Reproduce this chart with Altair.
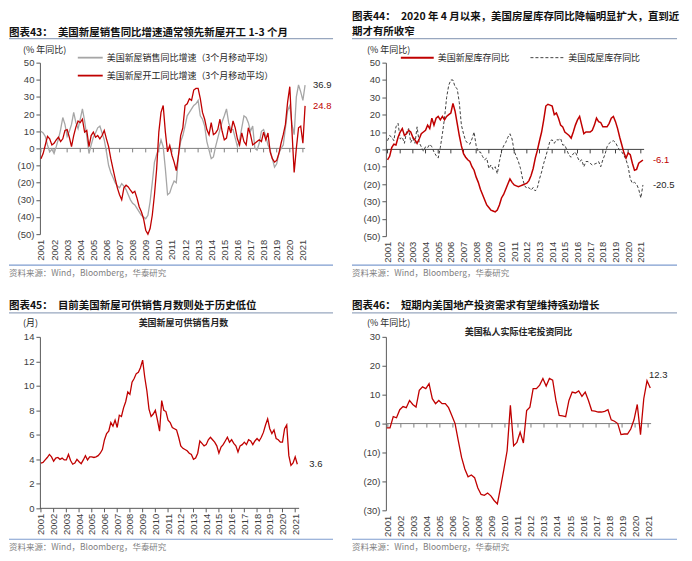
import altair as alt
import pandas as pd

YEARS = list(range(2001, 2022))

# ---- 图表43 (readings every two months, Jan 2001 .. Mar 2021) ----
sales_yoy = [10, 9, 7, 2, -2, -0.5, -3, 1, 5.5, 11, 18, 14,
             7, 10, 14, 21, 15, 11.5, 17, 23, 16, 7, -3, 2,
             6.5, 9, 12, 13, 9, 5, -2, -10, -14, -17, -20, -22,
             -23, -20.5, -22, -24, -27, -30, -32, -33, -35, -37, -39, -40,
             -41, -39, -31, -20, -8, -3.5, 0, 5, 1, -12, -27, -26,
             -22, -19, -20, -4, 4, 7.5, 13, 19, 21, 23, 25, 26,
             28, 19, 17, 13, 4, -1, -6, -5, 1, 6, 11, 15.5,
             19, 23, 15, 11, 11, 6, 1, 5, 12, 19, 18, 15,
             10, 13, 0, -1, 3, 10, 11, 7, 2, -1, -6, -11,
             -9, -3, 0, 2, 12, 22, 25, 14, 8, 30, 37, 33,
             28, 36.9]
starts_yoy = [-6, -3, 2, 7, 5.6, 2, 3, 5, 6.5, 4, 5.6, 10.5,
              11, 6.5, 1, 7.5, 12.4, 16, 15, 17, 9.5, 10.5, 1, 7.5,
              9.5, 6.5, 7.5, 5.6, 7.5, 10.5, 5.6, 1, -6, -12, -17.6, -23,
              -27, -30, -23, -21.5, -22.5, -24.4, -26, -25, -29, -34, -37, -41,
              -47.7, -50, -46.7, -39, -27, -12, 9.5, 21, 25, 9.5, -2, 1.7,
              -4, -8, -13, -4, 7.5, 12, 25, 26, 29, 28, 34, 35,
              35, 29, 21, 17, 11, 8, 15, 8, 9, 11, 17, 10,
              5, 6, 13, 9, 16, 12, 5.6, 2, 9, 4, 2, 12,
              8, 2, 3, 4, 5, 4, 9.5, 5, 9, -2, -6, -8,
              -7, -3, 3, 8, 14, 27, 36, 10, -14, 0, 12, 13,
              3, 24.8]

# ---- 图表44 ----
new_inv_yoy = [-6, -4, 1, 3, 2.5, 7, 10, 12, 8, 9, 11, 10,
               7, 5.5, 3.5, 6, 9, 10, 11, 14, 12, 18, 14, 18,
               19, 17, 19, 17, 19, 20, 21, 26.5, 22, 15, 8, 2,
               -2.5, -4.5, -6, -7, -10, -12, -16, -19, -23, -26, -29, -32,
               -33.5, -35, -35.5, -36, -35, -32, -28, -26, -23, -20, -17, -19,
               -20.5, -21, -21.5, -21, -20.5, -20, -19.5, -18, -15, -11, -5, -0.5,
               5, 10, 17, 25, 26, 25.5, 25, 20, 21, 18, 14, 13,
               10, 9, 8, 6.5, 10, 14, 17, 19, 14, 9, 10, 10,
               10, 11, 14, 18, 16, 15.5, 13, 13, 13, 15, 18, 19,
               16, 12, 7, 2.5, -2, -5, -2, -3, -8, -12, -11.5, -8,
               -7, -6.1]
exist_inv_yoy = [5, 8, 7, 5, 13, 15, 6, 7, 3.5, 10, 12, 4,
                 6.5, 3.5, 13, 4, 1.5, -1, 1.5, 1, 3, 1.5, -1.5, -3.5,
                 -5, 1, 9, 18, 30, 37, 40, 40, 36, 35, 27, 14,
                 9, 5, 3.5, 3, 6, 10, 2, -1.5, -1.5, -4, -6, -5,
                 -11, -9, -11.5, -10, -14, -7, -1, 2, 4, 7, 9, 6,
                 -1, -4, -7, -11, -17, -21, -22.5, -22, -23.5, -22, -24, -22,
                 -17, -13, -8, -4, 0.5, 5, 5.5, 3.5, 5.5, 5.5, 6.3, 2.5,
                 2.5, -0.5, -3.5, -4.5, -2.5, -1.5, -4.5, -7, -6, -10, -7, -7,
                 -8, -9, -8.5, -8, -7, -10, -6, -3, 1.5, 3.5, 4.5, 5,
                 4, 1.5, -0.5, -1.5, -3.5, -6, -10, -17, -19.5, -19, -20, -23,
                 -28, -20.5]

# ---- 图表45 ----
months_supply = [3.7, 3.75, 3.95, 4.15, 4.4, 4.2, 3.85, 4.1, 4.15, 4.0, 4.1, 3.95,
                 3.95, 4.4, 3.9, 3.6, 3.7, 4.0, 3.8, 3.65, 3.95, 4.3, 3.95, 4.2,
                 4.2, 4.15, 4.2, 4.3, 4.5, 4.8, 5.6, 6.1, 6.3, 7.0, 6.7, 7.2,
                 6.6, 7.6, 7.5, 8.2, 8.7, 9.5, 9.3, 10.3, 10.6, 11.0, 11.1, 11.5,
                 12.1, 10.7, 9.6, 8.1, 7.5, 7.7, 8.0, 7.2, 6.3, 8.8, 8.0, 7.9,
                 7.2, 7.0, 6.6, 6.5, 6.4, 5.8, 5.1, 4.9, 4.8, 4.7, 4.5, 4.4,
                 4.0, 4.1, 4.5, 5.5, 5.3, 5.1, 5.2, 5.6, 5.8, 5.6, 5.4, 5.1,
                 4.5, 5.0, 5.2, 5.5, 5.8, 5.4, 5.6, 5.3, 5.1, 4.6, 5.1, 5.2,
                 5.4, 5.2, 5.6, 5.5, 5.2, 5.5, 5.7, 5.5, 5.8, 6.2, 6.8, 7.3,
                 6.5, 6.1, 6.4, 5.7, 5.6, 5.4, 5.4, 6.5, 6.8, 4.3, 3.5, 3.7,
                 4.2, 3.6]

# ---- 图表46 (quarterly, 2000Q4 .. 2021Q1) ----
resinv_yoy = [-1.5, -1.5, 2.4, 2.0, 4.8, 5.9, 5.5, 8.0, 6.6, 5.7, 11.5, 12.7,
              12.1, 13.8, 8.6, 6.9, 8.0, 6.9, 6.9, 5.5, 2.8, 0, -6, -11.7,
              -15.7, -18.4, -17.8, -18.7, -22.3, -24.5, -24.8, -24, -25, -26.6, -27.8, -22,
              -15.8, -9.4, 6.3, -7.7, -6.5, -3, -6.7, 4.5, 5.7, 12.1, 12.1, 13.3,
              15.6, 13, 15.6, 15, 8, 2.8, 2.7, 2.4, 8, 10.9, 10.6, 11.3,
              9.4, 10.9, 8, 4.5, 4.3, 4, 4, 4.2, 4.8, 1.3, 0.8, 0,
              -3.8, -3.6, -3.6, -1.9, 1.3, 6.6, -3.8, 8.6, 14.8, 12.3]

CN = "Noto Sans CJK SC"
NUM = "Liberation Sans"
RED = "#C00000"
GRAY = "#A6A6A6"
AXIS_C = "#595959"
TXT_C = "#404040"
TOP_LINE = "#98A7BF"
BOT_LINE = "#7E9CCF"
ONE = alt.Data(values=[{"k": 0}])


def bimonthly(vals):
    return pd.DataFrame({"t": [2001 + i / 6 for i in range(len(vals))], "v": vals})


def quarterly(vals):
    return pd.DataFrame({"t": [2000 + 11 / 12 + i / 4 for i in range(len(vals))], "v": vals})


def last_row(df):
    r = df.iloc[-1]
    return pd.DataFrame({"t": [r["t"]], "v": [r["v"]], "lbl": [f"{r['v']:.1f}"]})


PAREN = "datum.value < 0 ? '(' + format(-datum.value, 'd') + ')' : format(datum.value, 'd')"


def xenc(dom):
    return alt.X("t:Q", scale=alt.Scale(domain=dom, nice=False, zero=False),
                 axis=alt.Axis(values=YEARS, format="d", labelAngle=-90, domain=False, ticks=False,
                               labelPadding=5, labelFont=NUM, labelFontSize=9.5, labelColor=TXT_C,
                               grid=False, title=None, labelOverlap=False, labelFlush=False,
                               labelBound=False))


def yenc(dom, vals):
    return alt.Y("v:Q", scale=alt.Scale(domain=dom, nice=False, zero=False),
                 axis=alt.Axis(values=vals, labelExpr=PAREN, grid=False, title=None,
                               domainColor=AXIS_C, tickColor=AXIS_C, tickSize=4, labelPadding=2,
                               labelFont=NUM, labelFontSize=9.5, labelColor=TXT_C))


def txt(s, x, y, size=9, weight="normal", color="#262626", align="left", font=CN):
    return alt.Chart(ONE).mark_text(text=s, align=align, baseline="middle", fontSize=size,
                                    fontWeight=weight, color=color, font=font).encode(
        x=alt.value(x), y=alt.value(y))


def hline(x1, x2, y, color, width=1.0, dash=None):
    kw = dict(color=color, strokeWidth=width)
    if dash:
        kw["strokeDash"] = dash
    return alt.Chart(ONE).mark_rule(**kw).encode(x=alt.value(x1), x2=alt.value(x2), y=alt.value(y))


def zero_and_ticks(X, Y, color):
    zero = alt.Chart(pd.DataFrame({"v": [0]})).mark_rule(color=color, strokeWidth=1).encode(y=Y)
    ticks = alt.Chart(pd.DataFrame({"t": YEARS, "v": [0] * len(YEARS), "v2": [0] * len(YEARS)})).mark_rule(
        color=color, strokeWidth=1, y2Offset=4).encode(x=X, y=Y, y2="v2:Q")
    return [zero, ticks]


def frame(title_lines, xl, xr, source_y=211):
    layers = []
    for i, (s, y) in enumerate(title_lines):
        layers.append(txt(s, xl, y, size=10.5, weight="bold", color="#111111"))
    layers.append(hline(xl, xr, -24, TOP_LINE, 1.2))
    layers.append(hline(xl, xr, 203, BOT_LINE, 1.2))
    layers.append(txt("资料来源：Wind，Bloomberg，华泰研究", xl, source_y, size=8.5, color="#7F7F7F"))
    return layers


def end_label(df, X, Y, color, dx, dy=0, align="left"):
    return alt.Chart(last_row(df)).mark_text(align=align, baseline="middle", dx=dx, dy=dy, fontSize=9.5,
                                             font=NUM, color=color).encode(x=X, y=Y, text="lbl:N")


# ---------------- Panel 43 ----------------
X1 = xenc([2000.92, 2021.17])
Y1 = yenc([-50, 50], list(range(-50, 51, 10)))
d_sales = bimonthly(sales_yoy)
d_starts = bimonthly(starts_yoy)
p1 = alt.layer(
    *zero_and_ticks(X1, Y1, "#808080"),
    alt.Chart(d_sales).mark_line(color=GRAY, strokeWidth=1.3).encode(x=X1, y=Y1),
    alt.Chart(d_starts).mark_line(color=RED, strokeWidth=1.3).encode(x=X1, y=Y1),
    end_label(d_sales, X1, Y1, "#262626", 8),
    end_label(d_starts, X1, Y1, RED, 8),
    hline(38, 63, -5, GRAY, 1.8),
    txt("美国新屋销售同比增速（3个月移动平均）", 67, -5),
    hline(38, 63, 13, RED, 1.8),
    txt("美国新屋开工同比增速（3个月移动平均）", 67, 13),
    txt("(% 年同比)", -17, -13),
    *frame([("图表43：\u3000美国新屋销售同比增速通常领先新屋开工 1-3 个月", -30)], -31, 294),
).properties(width=266, height=172)

# ---------------- Panel 44 ----------------
X2 = xenc([2000.87, 2021.26])
Y2 = yenc([-50, 50], list(range(-50, 51, 10)))
d_new = bimonthly(new_inv_yoy)
d_exist = bimonthly(exist_inv_yoy)
p2 = alt.layer(
    *zero_and_ticks(X2, Y2, "#404040"),
    alt.Chart(d_exist).mark_line(color="#404040", strokeWidth=1, strokeDash=[3, 2]).encode(x=X2, y=Y2),
    alt.Chart(d_new).mark_line(color=RED, strokeWidth=1.5).encode(x=X2, y=Y2),
    end_label(d_new, X2, Y2, RED, 10),
    end_label(d_exist, X2, Y2, "#262626", 10),
    hline(15, 48, -5, RED, 2),
    txt("美国新屋库存同比", 52, -5),
    hline(145, 178, -5, "#404040", 1, [3, 2]),
    txt("美国成屋库存同比", 183, -5),
    txt("(% 年同比)", -19, -13),
    *frame([("图表44：\u30002020 年 4 月以来，美国房屋库存同比降幅明显扩大，直到近", -46),
            ("期才有所收窄", -31)], -34, 292),
).properties(width=259, height=174)

# ---------------- Panel 45 ----------------
X3 = xenc([2000.92, 2021.31])
Y3 = yenc([0, 14], list(range(0, 15, 2)))
d_ms = bimonthly(months_supply)
p3 = alt.layer(
    *zero_and_ticks(X3, Y3, AXIS_C),
    alt.Chart(d_ms).mark_line(color=RED, strokeWidth=1.3).encode(x=X3, y=Y3),
    end_label(d_ms, X3, Y3, "#262626", 12),
    txt("(月)", -17, -14),
    txt("美国新屋可供销售月数", 144, -14, size=9, weight="bold", align="center"),
    *frame([("图表45：\u3000目前美国新屋可供销售月数则处于历史低位", -31)], -31, 294),
).properties(width=260, height=172)

# ---------------- Panel 46 ----------------
X4 = xenc([2000.85, 2021.23])
Y4 = yenc([-30, 30], list(range(-30, 31, 10)))
d_ri = quarterly(resinv_yoy)
p4 = alt.layer(
    *zero_and_ticks(X4, Y4, "#808080"),
    alt.Chart(d_ri).mark_line(color=RED, strokeWidth=1.3).encode(x=X4, y=Y4),
    end_label(d_ri, X4, Y4, "#262626", 8, dy=-13, align="center"),
    txt("(% 年同比)", -19, -14),
    txt("美国私人实际住宅投资同比", 133, -5, size=9, weight="bold", align="center"),
    *frame([("图表46：\u3000短期内美国地产投资需求有望维持强劲增长", -31)], -34, 292),
).properties(width=266, height=174)

chart = alt.concat(p1, p2, p3, p4, columns=2, spacing={"row": 101, "column": 81}, bounds="flush").properties(
    padding={"left": 0, "top": 3, "right": 4, "bottom": 4}, background="white"
).configure_view(strokeWidth=0)

chart.save("out.html", embed_options={"renderer": "svg", "actions": False})
